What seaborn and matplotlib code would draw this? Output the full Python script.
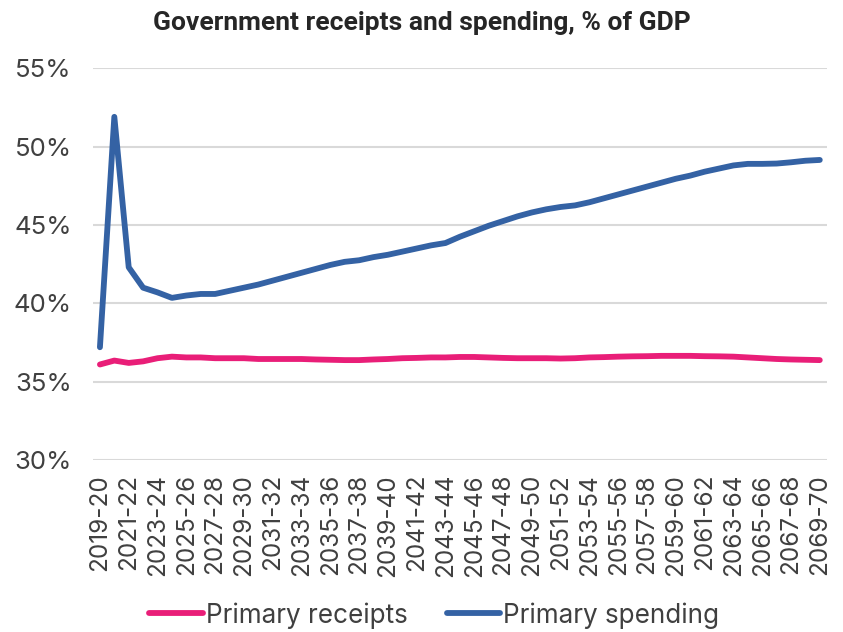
import matplotlib
matplotlib.use("Agg")
import matplotlib.pyplot as plt
import seaborn as sns
import pandas as pd

# Financial years 2019-20 .. 2069-70
years = [f"{y}-{str(y + 1)[-2:]}" for y in range(2019, 2070)]

primary_receipts = [
    36.1, 36.35, 36.2, 36.3, 36.5, 36.6, 36.55, 36.55, 36.5, 36.5,
    36.5, 36.45, 36.45, 36.45, 36.45, 36.42, 36.4, 36.38, 36.38, 36.42,
    36.45, 36.5, 36.52, 36.55, 36.55, 36.58, 36.58, 36.55, 36.52, 36.5,
    36.5, 36.5, 36.48, 36.5, 36.55, 36.57, 36.6, 36.62, 36.63, 36.65,
    36.65, 36.65, 36.63, 36.62, 36.6, 36.55, 36.5, 36.45, 36.42, 36.4,
    36.38,
]

primary_spending = [
    37.2, 51.9, 42.3, 41.0, 40.7, 40.35, 40.5, 40.6, 40.6, 40.8,
    41.0, 41.2, 41.45, 41.7, 41.95, 42.2, 42.45, 42.65, 42.75, 42.95,
    43.1, 43.3, 43.5, 43.7, 43.85, 44.25, 44.6, 44.95, 45.25, 45.55,
    45.8, 46.0, 46.15, 46.25, 46.45, 46.7, 46.95, 47.2, 47.45, 47.7,
    47.95, 48.15, 48.4, 48.6, 48.8, 48.9, 48.9, 48.92, 49.0, 49.1,
    49.15,
]

series_names = ["Primary receipts", "Primary spending"]
series_colors = ["#E91E78", "#3462A4"]
y_ticks = [30, 35, 40, 45, 50, 55]

df = pd.DataFrame({
    "Year": years * 2,
    "Value": primary_receipts + primary_spending,
    "Series": [series_names[0]] * len(years) + [series_names[1]] * len(years),
})

sns.set_theme(style="white")
plt.rcParams["font.family"] = ["Inter", "DejaVu Sans"]

fig = plt.figure(figsize=(8.43, 6.32), dpi=100)
ax = fig.add_axes([0.110, 0.272, 0.871, 0.620])

sns.lineplot(
    data=df, x="Year", y="Value", hue="Series", sort=False,
    palette=dict(zip(series_names, series_colors)),
    linewidth=4.2, ax=ax, legend=True,
)
for ln in ax.get_lines():
    ln.set_solid_capstyle("round")
    ln.set_solid_joinstyle("round")

n = len(years)
ax.set_xlim(-0.5, n - 0.5)
ax.set_ylim(30, 55)
ax.set_yticks(y_ticks)
ax.set_yticklabels([f"{v}%" for v in y_ticks])
ax.set_xticks(range(0, n, 2))
ax.set_xticklabels(years[::2], rotation=90)
ax.tick_params(axis="both", length=0, labelcolor="#404040")
ax.tick_params(axis="x", pad=10, labelsize=17.5)
ax.tick_params(axis="y", pad=15, labelsize=18.5)

ax.grid(axis="y", color="#D9D9D9", linewidth=1.5)
ax.grid(axis="x", visible=False)
for s in ax.spines.values():
    s.set_visible(False)
ax.set_xlabel("")
ax.set_ylabel("")

fig.suptitle("Government receipts and spending, % of GDP",
             x=0.50, y=0.982, fontsize=19, fontweight="bold", color="#262626",
             family=["Roboto", "DejaVu Sans"])

handles, labels = ax.get_legend_handles_labels()
ax.legend(handles, labels, loc="lower center", bbox_to_anchor=(0.465, -0.49),
          ncol=2, frameon=False, fontsize=18.8, handlelength=2.05,
          handletextpad=0.12, columnspacing=1.5, labelcolor="#404040")

fig.savefig("out.png", dpi=100, facecolor="white")
